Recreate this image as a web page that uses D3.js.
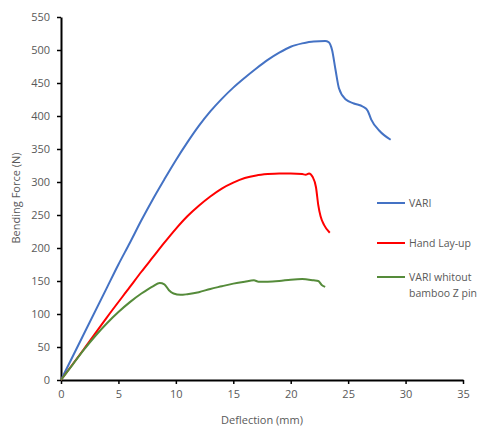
<!DOCTYPE html>
<html>
<head>
<meta charset="utf-8">
<script src="https://cdn.jsdelivr.net/npm/d3@7"></script>
<style>
  body { margin: 0; background: #fff; }
  text { font-family: "Open Sans", "Liberation Sans", sans-serif; fill: #595959; }
</style>
</head>
<body>
<script>
// values
var variX  = [0, 2, 4, 5, 6, 7, 8, 9, 10, 11, 12, 13, 14, 15, 16, 17, 18, 19, 20, 21, 22, 23, 23.3, 23.6, 23.9, 24.2, 24.8, 25.5, 26.3, 26.7, 27.0, 27.7, 28.7];
var variY  = [0, 70, 140, 175, 208, 242, 274, 304, 333, 360, 385, 407, 426, 443, 458, 472, 485, 496, 505, 510, 513, 513.5, 512, 500, 470, 442, 425, 419, 414, 408, 395, 378, 364];

var handX  = [0, 2, 4, 6, 7, 8, 9, 10, 11, 12, 13, 14, 15, 16, 17, 18, 19, 20, 21, 21.3, 21.6, 21.9, 22.2, 22.4, 22.6, 22.9, 23.4];
var handY  = [0, 47, 95, 141, 164, 186, 208, 229, 248, 264, 278, 290, 299, 306, 310, 312, 313, 313, 312, 311, 313, 308, 292, 265, 248, 235, 223];

var noPinX = [0, 1, 2, 3, 4, 5, 6, 7, 8, 8.6, 9.0, 9.4, 9.8, 10.4, 11, 12, 13, 14, 15, 16, 16.8, 17.2, 18, 19, 20, 21, 22, 22.4, 22.7, 23];
var noPinY = [0, 23, 46, 67, 86, 103, 118, 131, 142, 147, 145, 136, 131, 129, 130, 133, 138, 142, 146, 149, 151, 149, 149, 150, 152, 153, 151, 150, 144, 141];

var seriesNames = ["VARI", "Hand Lay-up", "VARI whitout bamboo Z pin"];
var seriesColors = ["#4472C4", "#FF0000", "#558B3A"];
var xTicks = [0, 5, 10, 15, 20, 25, 30, 35];
var yTicks = [0, 50, 100, 150, 200, 250, 300, 350, 400, 450, 500, 550];

var W = 483, H = 428;
var margin = {top: 17, right: 20, bottom: 48, left: 61};

var svg = d3.select("body").append("svg")
    .attr("width", W)
    .attr("height", H);

var x = d3.scaleLinear().domain([0, 35]).range([margin.left, 463]);
var y = d3.scaleLinear().domain([0, 550]).range([380, margin.top]);

// axes
var xAxis = svg.append("g")
    .attr("transform", "translate(0," + y(0) + ")")
    .call(d3.axisBottom(x).tickValues(xTicks).tickSize(4).tickSizeOuter(0).tickPadding(6));
var yAxis = svg.append("g")
    .attr("transform", "translate(" + x(0) + ",0)")
    .call(d3.axisLeft(y).tickValues(yTicks).tickSize(4).tickSizeOuter(0).tickPadding(7));

[xAxis, yAxis].forEach(function(a) {
  a.select(".domain").attr("stroke", "#000").attr("stroke-width", 2);
  a.selectAll(".tick line").attr("stroke", "#000").attr("stroke-width", 1.5);
  a.selectAll(".tick text").style("font-size", "11px").attr("fill", "#595959");
});

// axis titles
svg.append("text")
    .attr("x", 262).attr("y", 424)
    .attr("text-anchor", "middle")
    .style("font-size", "11px")
    .text("Deflection (mm)");
svg.append("text")
    .attr("transform", "translate(20,198) rotate(-90)")
    .attr("text-anchor", "middle")
    .style("font-size", "11px")
    .text("Bending Force (N)");

// curves
var line = d3.line()
    .x(function(d) { return x(d[0]); })
    .y(function(d) { return y(d[1]); })
    .curve(d3.curveMonotoneX);

var series = [
  d3.zip(variX, variY),
  d3.zip(handX, handY),
  d3.zip(noPinX, noPinY)
];

series.forEach(function(s, i) {
  svg.append("path")
      .datum(s)
      .attr("fill", "none")
      .attr("stroke", seriesColors[i])
      .attr("stroke-width", 2)
      .attr("d", line);
});

// legend
var legendY = [203, 243, 277];
var legend = svg.append("g");
seriesNames.forEach(function(name, i) {
  legend.append("line")
      .attr("x1", 377).attr("x2", 405)
      .attr("y1", legendY[i]).attr("y2", legendY[i])
      .attr("stroke", seriesColors[i])
      .attr("stroke-width", 2);
  var t = legend.append("text")
      .attr("x", 409).attr("y", legendY[i] + 4)
      .style("font-size", "10.5px");
  if (i == 2) {
    t.text("VARI whitout");
    legend.append("text")
        .attr("x", 409).attr("y", legendY[i] + 20)
        .style("font-size", "10.5px")
        .text("bamboo Z pin");
  } else {
    t.text(name);
  }
});
</script>
</body>
</html>
